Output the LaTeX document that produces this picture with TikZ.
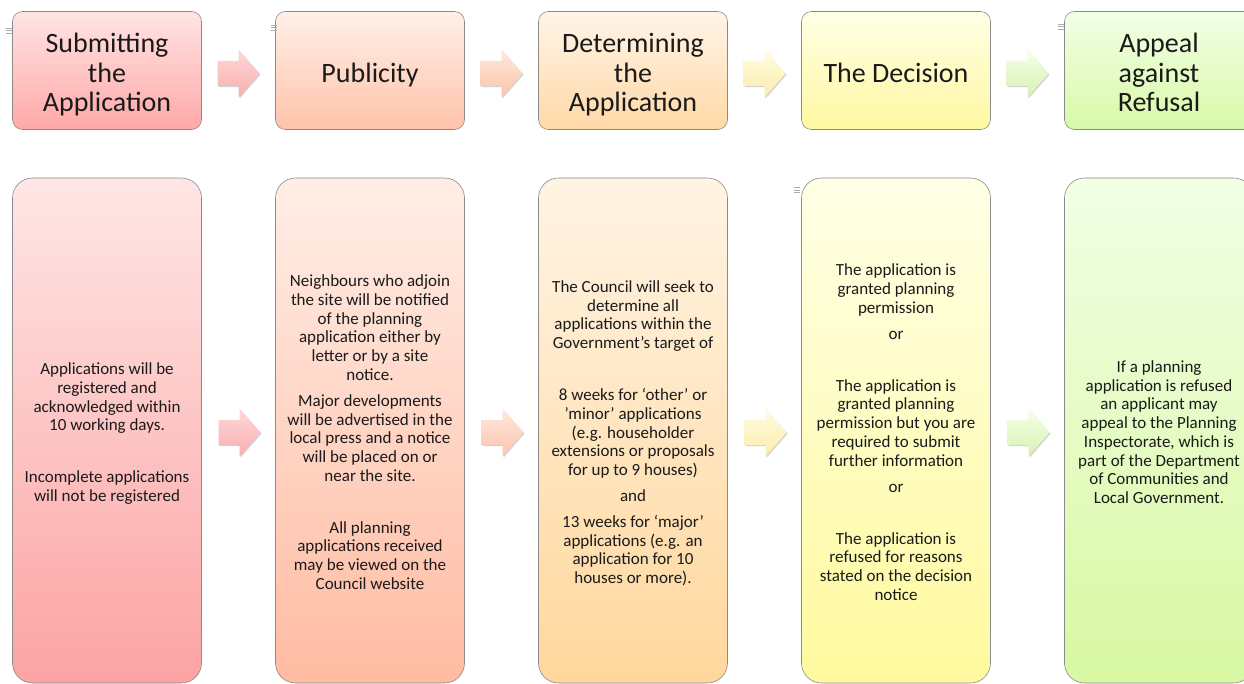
\documentclass[tikz,border=0pt]{standalone}
\usepackage{fontspec}
\setmainfont{Carlito}
\usetikzlibrary{calc,shadows}
\definecolor{bordergray}{HTML}{8A8A8A}
\definecolor{textcol}{HTML}{1A1A1A}
\definecolor{hAt}{HTML}{FFE4E4}\definecolor{hAb}{HTML}{FFA8A8}
\definecolor{bAt}{HTML}{FFE6E6}\definecolor{bAb}{HTML}{FCA3A3}
\definecolor{hBt}{HTML}{FFF0E8}\definecolor{hBb}{HTML}{FFC3AA}
\definecolor{bBt}{HTML}{FFEEE6}\definecolor{bBb}{HTML}{FFBBA2}
\definecolor{hCt}{HTML}{FFF5E8}\definecolor{hCb}{HTML}{FFD8A6}
\definecolor{bCt}{HTML}{FFF4E4}\definecolor{bCb}{HTML}{FFD79C}
\definecolor{hDt}{HTML}{FFFFE6}\definecolor{hDb}{HTML}{FFF8A2}
\definecolor{bDt}{HTML}{FFFFE6}\definecolor{bDb}{HTML}{FFFA9E}
\definecolor{hEt}{HTML}{F2FFE6}\definecolor{hEb}{HTML}{D9F9A8}
\definecolor{bEt}{HTML}{F2FFE6}\definecolor{bEb}{HTML}{D8F8A2}
\definecolor{aAt}{HTML}{FFD8D8}\definecolor{aAb}{HTML}{F7AEAE}
\definecolor{aBt}{HTML}{FFE8DC}\definecolor{aBb}{HTML}{FAC5AC}
\definecolor{aCt}{HTML}{FFFCE0}\definecolor{aCb}{HTML}{FCEDAC}
\definecolor{aDt}{HTML}{F4FFE6}\definecolor{aDb}{HTML}{D8F2B4}
\newcommand{\blockarrow}[3]{%
  \path[top color=#2, bottom color=#3, shift={(#1)},
        drop shadow={shadow xshift=1pt, shadow yshift=-1.2pt, opacity=0.35}]
    (-21,-12.5) -- (0,-12.5) -- (0,-24) -- (21,0) -- (0,24) -- (0,12.5) -- (-21,12.5) -- cycle;}
\newcommand{\tinymark}[1]{%
  \draw[gray!65, line width=0.5pt, shift={(#1)}]
    (0,0) -- (6,0) (0,2.5) -- (6,2.5) (0,5) -- (6,5);}
\newcommand{\hs}{\rule{0pt}{31pt}}
\newcommand{\he}{\rule[-7pt]{0pt}{7pt}}
\newcommand{\bs}{\rule{0pt}{20pt}}
\newcommand{\be}{\rule[-5pt]{0pt}{5pt}}
\begin{document}
\begin{tikzpicture}[x=1pt,y=-1pt,
  head/.style={draw=bordergray, line width=0.6pt, rounded corners=10pt,
    minimum width=189pt, minimum height=118pt, inner sep=0pt, align=center,
    text=textcol, font=\fontsize{28}{29.5}\selectfont},
  body/.style={draw=bordergray, line width=0.6pt, rounded corners=20pt,
    minimum width=189pt, minimum height=505pt, inner sep=0pt, align=center,
    text=textcol, font=\fontsize{17}{18.7}\selectfont}]
\useasboundingbox (0,0) rectangle (1244,684);
\clip (0,0) rectangle (1244,684);
\fill[white] (0,0) rectangle (1244,684);
% headers
\node[head, top color=hAt, bottom color=hAb] (h1) at (107,70.5) {\hs Submitting\\the\\Application\he};
\node[head, top color=hBt, bottom color=hBb] (h2) at (370,70.5) {\hs Publicity\he};
\node[head, top color=hCt, bottom color=hCb] (h3) at (633,70.5) {\hs Determining\\the\\Application\he};
\node[head, top color=hDt, bottom color=hDb] (h4) at (896,70.5) {\hs The Decision\he};
\node[head, top color=hEt, bottom color=hEb] (h5) at (1159,70.5) {\hs Appeal\\against\\Refusal\he};
% bodies
\node[body, top color=bAt, bottom color=bAb] (b1) at (107,430.5) {\bs Applications will be\\registered and\\acknowledged within\\10 working days.\\[33.3pt]Incomplete applications\\will not be registered\be};
\node[body, top color=bBt, bottom color=bBb] (b2) at (370,430.5) {\bs Neighbours who adjoin\\the site will be notified\\of the planning\\application either by\\letter or by a site\\notice.\\[7.3pt]Major developments\\will be advertised in the\\local press and a notice\\will be placed on or\\near the site.\\[33.3pt]All planning\\applications received\\may be viewed on the\\Council website\be};
\node[body, top color=bCt, bottom color=bCb] (b3) at (633,430.5) {\bs The Council will seek to\\determine all\\applications within the\\Government’s target of\\[33.3pt]8 weeks for ‘other’ or\\’minor’ applications\\(e.g. householder\\extensions or proposals\\for up to 9 houses)\\[7.3pt]and\\[7.3pt]13 weeks for ‘major’\\applications (e.g. an\\application for 10\\houses or more).\be};
\node[body, top color=bDt, bottom color=bDb] (b4) at (896,430.5) {\bs The application is\\granted planning\\permission\\[7.3pt]or\\[33.3pt]The application is\\granted planning\\permission but you are\\required to submit\\further information\\[7.3pt]or\\[33.3pt]The application is\\refused for reasons\\stated on the decision\\notice\be};
\node[body, top color=bEt, bottom color=bEb] (b5) at (1159,430.5) {\bs If a planning\\application is refused\\an applicant may\\appeal to the Planning\\Inspectorate, which is\\part of the Department\\of Communities and\\Local Government.\be};
% arrow positions
\coordinate (ha1) at ($(h1.east)!0.5!(h2.west)+(0,3)$);
\coordinate (ha2) at ($(h2.east)!0.5!(h3.west)+(0,3)$);
\coordinate (ha3) at ($(h3.east)!0.5!(h4.west)+(0,3)$);
\coordinate (ha4) at ($(h4.east)!0.5!(h5.west)+(0,3)$);
\coordinate (ba1) at ($(b1.east)!0.5!(b2.west)+(1,2)$);
\coordinate (ba2) at ($(b2.east)!0.5!(b3.west)+(1,2)$);
\coordinate (ba3) at ($(b3.east)!0.5!(b4.west)+(1,2)$);
\coordinate (ba4) at ($(b4.east)!0.5!(b5.west)+(1,2)$);
\blockarrow{ha1}{aAt}{aAb}
\blockarrow{ha2}{aBt}{aBb}
\blockarrow{ha3}{aCt}{aCb}
\blockarrow{ha4}{aDt}{aDb}
\blockarrow{ba1}{aAt}{aAb}
\blockarrow{ba2}{aBt}{aBb}
\blockarrow{ba3}{aCt}{aCb}
\blockarrow{ba4}{aDt}{aDb}
% small handle marks
\coordinate (m1) at ([shift={(-6,17)}]h1.north west);
\coordinate (m2) at ([shift={(-4.5,14)}]h2.north west);
\coordinate (m5) at ([shift={(-6,13)}]h5.north west);
\coordinate (m4) at ([shift={(-7,10)}]b4.north west);
\tinymark{m1}
\tinymark{m2}
\tinymark{m5}
\tinymark{m4}
\end{tikzpicture}
\end{document}
